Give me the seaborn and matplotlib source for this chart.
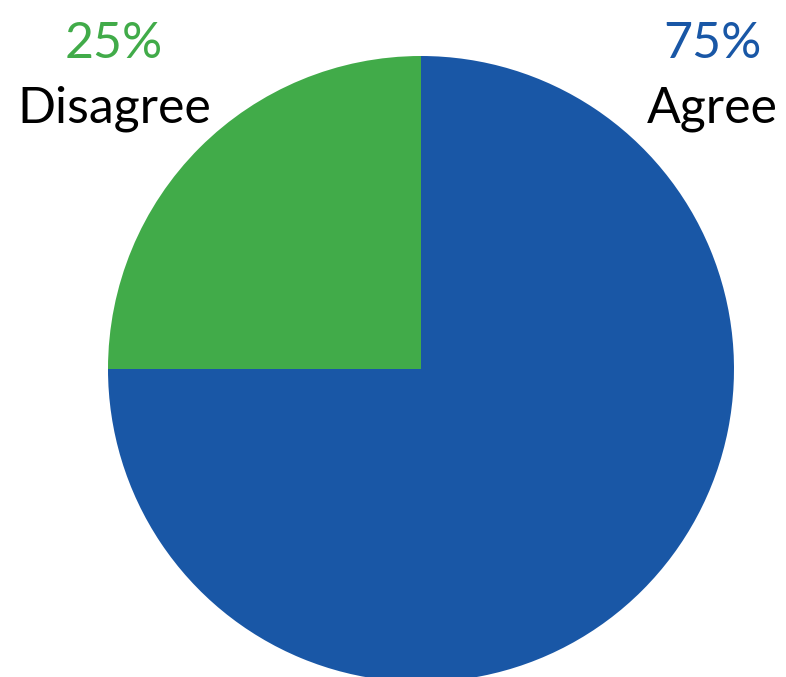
import matplotlib
matplotlib.use("Agg")
import matplotlib.pyplot as plt
import seaborn as sns

labels = ["Agree", "Disagree"]
shares = [75, 25]
colors = ["#1957A6", "#41AB49"]

sns.set_theme(style="white")
plt.rcParams["font.family"] = ["Lato", "DejaVu Sans"]

W, H = 786, 677
fig = plt.figure(figsize=(W / 100, H / 100), dpi=100)
ax = fig.add_axes([0, 0, 1, 1])

cx, cy, r = 421, H - 369, 313
ax.pie(shares, colors=colors, startangle=90, counterclock=False,
       center=(cx, cy), radius=r, frame=True,
       wedgeprops=dict(linewidth=0))
ax.set_xlim(0, W)
ax.set_ylim(0, H)
ax.set_aspect("equal")
ax.axis("off")

# label positions: x centre of each percentage and name
label_pos = {"Agree": 712, "Disagree": 114}
for lab, val, col in zip(labels, shares, colors):
    x = label_pos[lab]
    ax.text(x, H - 58, f"{val}%", color=col, fontsize=36,
            ha="center", va="baseline", fontweight="normal")
    ax.text(x, H - 122, lab, color="black", fontsize=36,
            ha="center", va="baseline", fontweight="normal")

fig.savefig("out.png", dpi=100)
